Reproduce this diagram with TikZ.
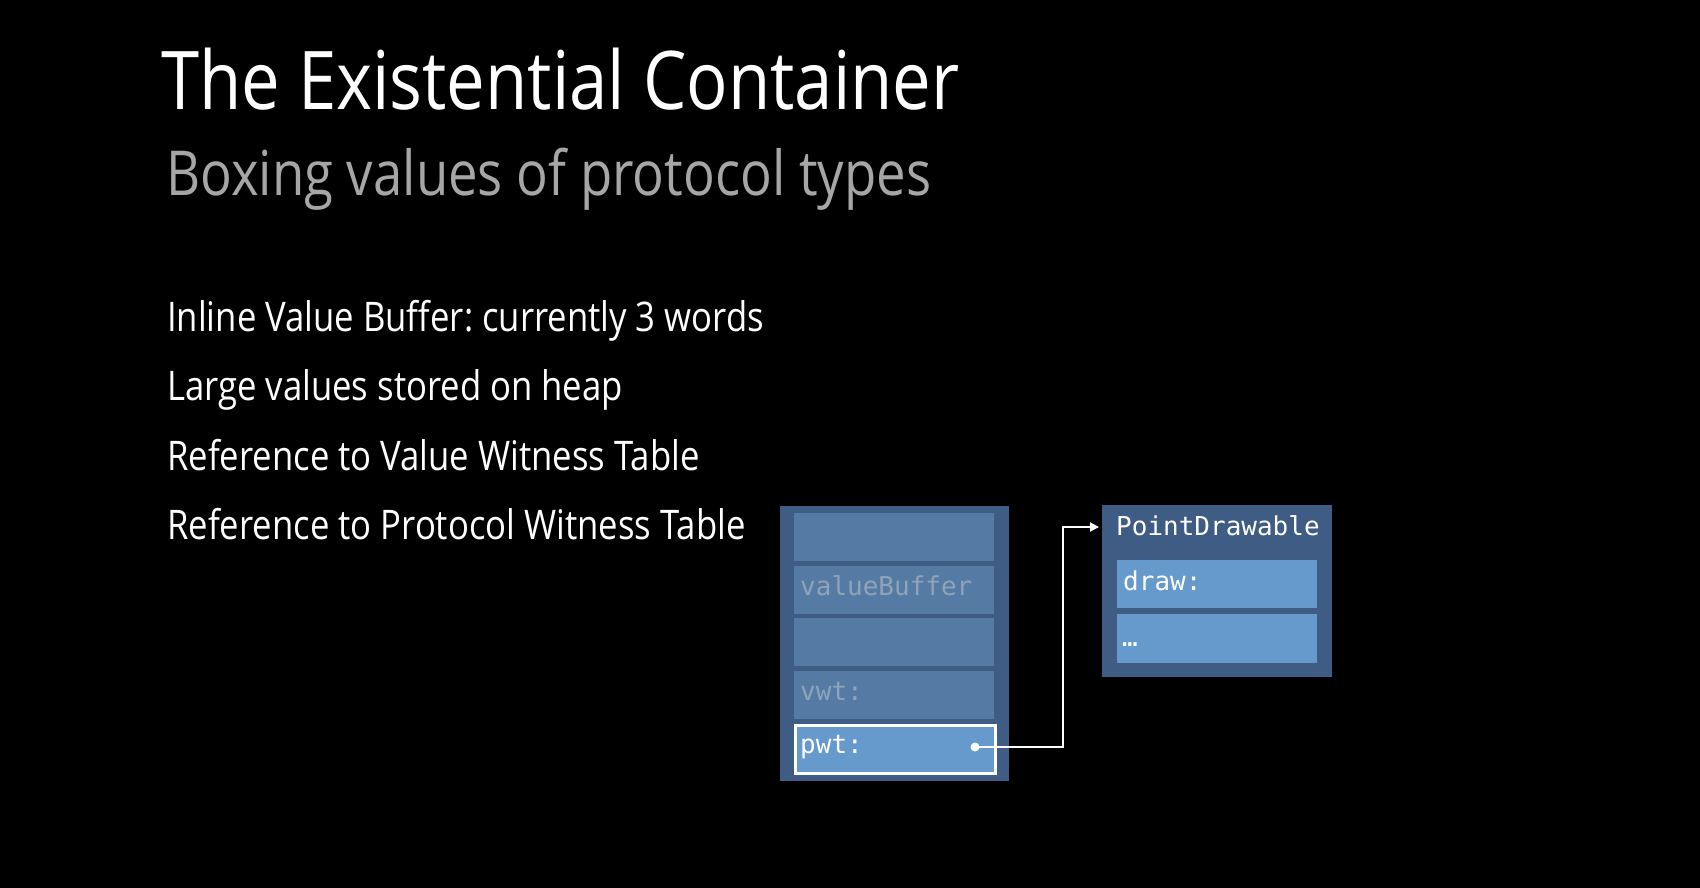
\documentclass[tikz,border=0pt]{standalone}
\usepackage{fontspec}
\usetikzlibrary{arrows.meta}
\newfontfamily\slidefont[FakeStretch=0.85]{Open Sans}
\newfontfamily\codefont{DejaVu Sans Mono}
\definecolor{outerblue}{HTML}{3E5C84}
\definecolor{mutedrow}{HTML}{557AA3}
\definecolor{brightrow}{HTML}{6699CC}
\definecolor{mutedtext}{HTML}{8FA3BA}
\definecolor{subgray}{HTML}{A6A6A6}
\tikzset{
  outerbox/.style={fill=outerblue, draw=none, inner sep=0, anchor=north west},
  mrow/.style={fill=mutedrow, draw=none, inner sep=0, anchor=north west, minimum width=200pt, minimum height=48pt},
  brow/.style={fill=brightrow, draw=none, inner sep=0, anchor=north west, minimum width=200pt, minimum height=48pt},
  code/.style={anchor=base west, inner sep=0, font=\codefont\fontsize{26}{30}\selectfont},
  bullet/.style={anchor=base west, inner sep=0, text=white, font=\slidefont\fontsize{40.8}{50}\selectfont},
  conn/.style={draw=white, line width=2pt},
}
\frenchspacing
\begin{document}
\begin{tikzpicture}[x=1pt,y=-1pt]
\useasboundingbox (0,0) rectangle (1700,888);
\fill[black] (0,0) rectangle (1700,888);

% titles
\node[anchor=base west, inner sep=0, text=white, font=\slidefont\fontsize{81}{90}\selectfont] (title) at (161,110) {The Existential Container};
\node[anchor=base west, inner sep=0, text=subgray, font=\slidefont\fontsize{62}{70}\selectfont] (subtitle) at (166,195) {Boxing values of protocol types};

% bullets
\node[bullet] (b1) at (167,331) {Inline Value Buffer: currently 3 words};
\node[bullet] (b2) at (167,400.5) {Large values stored on heap};
\node[bullet] (b3) at (167,470) {Reference to Value Witness Table};
\node[bullet] (b4) at (167,539) {Reference to Protocol Witness Table};

% existential container
\node[outerbox, minimum width=229pt, minimum height=275pt] (ec) at (780,506) {};
\node[mrow] (r1) at (794,513) {};
\node[mrow] (r2) at (794,565.5) {};
\node[mrow] (r3) at (794,618) {};
\node[mrow] (r4) at (794,670.5) {};
\node[brow, draw=white, line width=2.5pt] (r5) at (794,724) {};
\node[code, text=mutedtext] (vb) at (800,595) {valueBuffer};
\node[code, text=mutedtext] (vwt) at (800,700) {vwt:};
\node[code, text=white] (pwt) at (800,753) {pwt:};

% protocol witness table
\node[outerbox, minimum width=230pt, minimum height=172pt] (pd) at (1102,505) {};
\node[code, text=white] (pdt) at (1116,535) {PointDrawable};
\node[brow] (d1) at (1117,560) {};
\node[brow, minimum height=49pt] (d2) at (1117,614) {};
\node[code, text=white] (draw) at (1123,590) {draw:};
\node[code, text=white] (dots) at (1122,646) {…};

% connector
\node[circle, fill=white, inner sep=0, minimum size=9pt] (dot) at (975,747) {};
\coordinate (bend) at (1063,527);
\coordinate (tip) at (1099,527);
\draw[conn, -{Triangle[length=9pt,width=9pt]}] (dot.center) -| (bend) -- (tip);
\end{tikzpicture}
\end{document}
